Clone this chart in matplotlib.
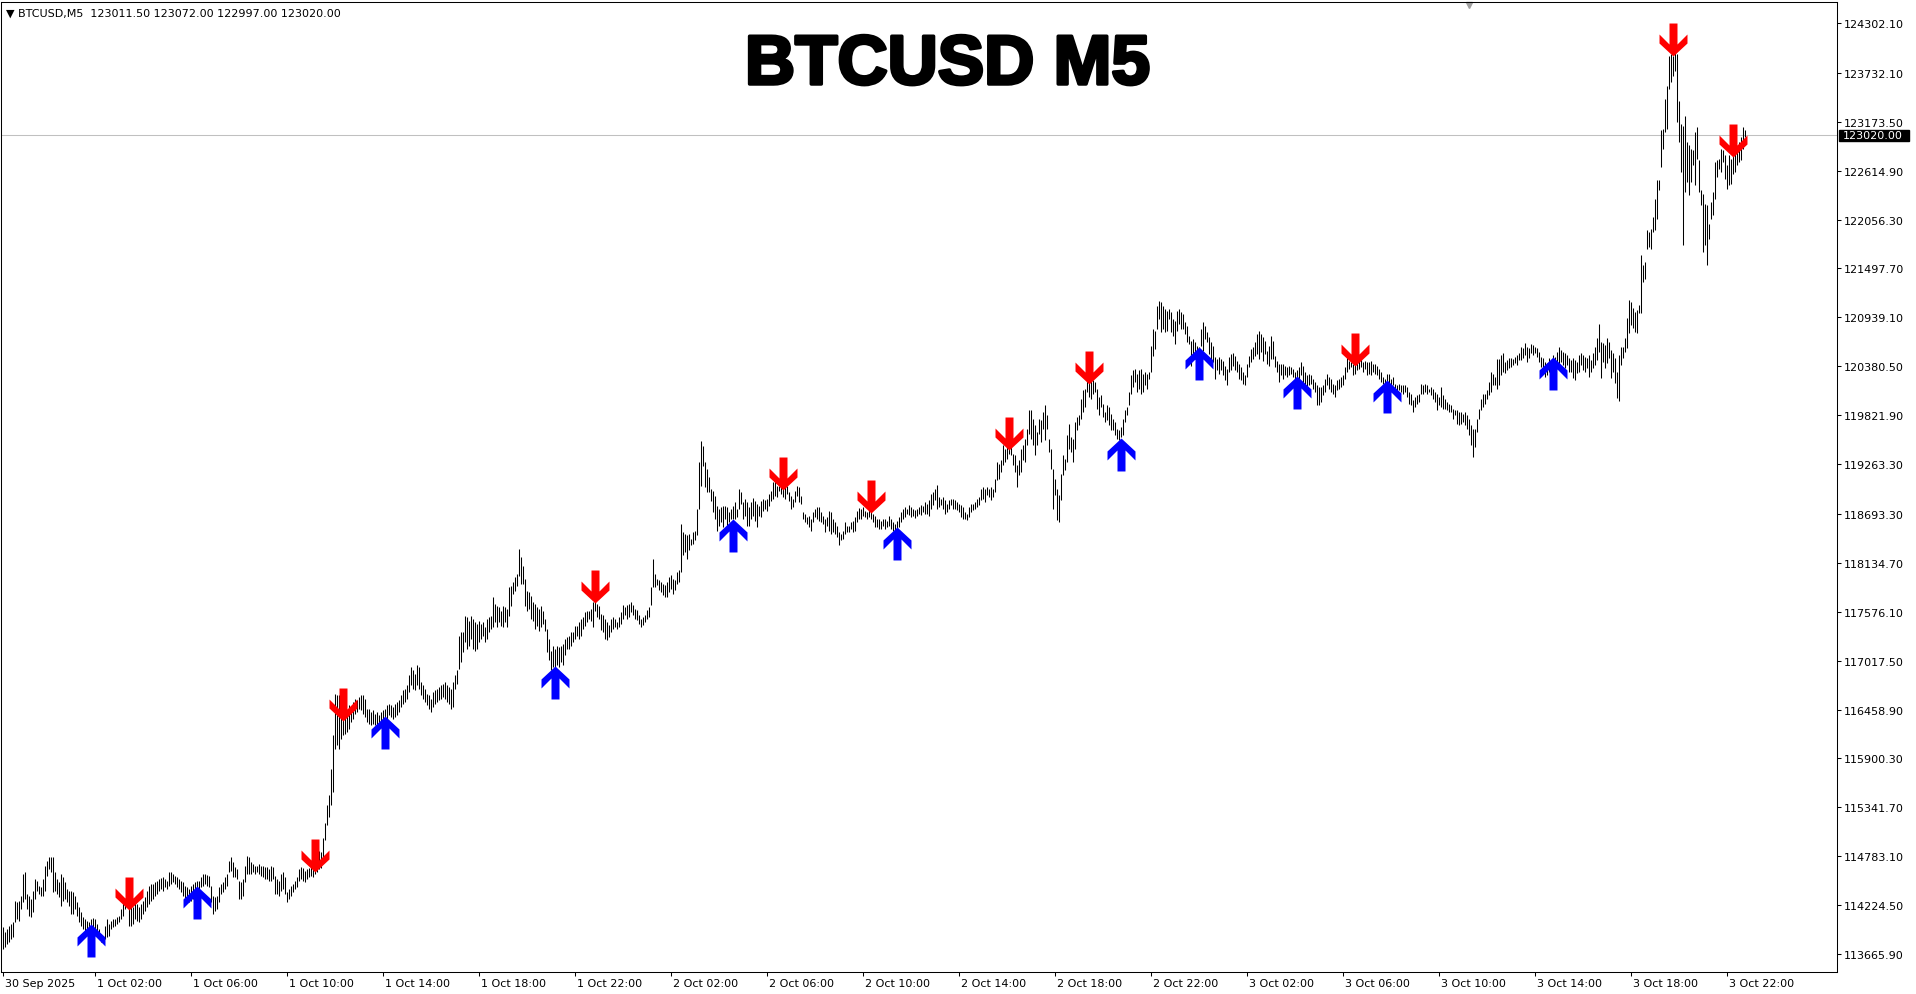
import numpy as np
import pandas as pd
import matplotlib
matplotlib.use("Agg")
import matplotlib.pyplot as plt
import matplotlib.patheffects as pe
from matplotlib.path import Path
from matplotlib.patches import Rectangle
from matplotlib.transforms import ScaledTranslation, blended_transform_factory

# M5 bars, first bar 30 Sep 2025 22:10
first_bar = "2025-09-30 22:10"

bar_high = [
113972, 113915, 113953, 113991, 114010, 114029, 114276, 114257, 114276, 114333,
114580, 114599, 114352, 114333, 114295, 114390, 114523, 114504, 114447, 114428,
114523, 114675, 114732, 114770, 114778, 114778, 114599, 114523, 114485, 114580,
114542, 114485, 114409, 114390, 114390, 114371, 114333, 114257, 114200, 114143,
114086, 114067, 114048, 114029, 114067, 114082, 114067, 114010, 113953, 113896,
113877, 113991, 114067, 114010, 114048, 114067, 114067, 114086, 114105, 114181,
114276, 114295, 114314, 114257, 114238, 114200, 114257, 114238, 114200, 114238,
114276, 114314, 114390, 114447, 114466, 114466, 114485, 114504, 114523, 114531,
114542, 114523, 114504, 114599, 114607, 114580, 114561, 114542, 114523, 114504,
114485, 114447, 114428, 114409, 114447, 114466, 114485, 114504, 114504, 114542,
114580, 114580, 114569, 114553, 114447, 114333, 114314, 114333, 114428, 114466,
114485, 114542, 114580, 114732, 114770, 114713, 114656, 114637, 114504, 114485,
114523, 114675, 114789, 114770, 114713, 114694, 114675, 114675, 114694, 114675,
114675, 114656, 114656, 114637, 114675, 114656, 114561, 114523, 114504, 114580,
114599, 114542, 114371, 114409, 114447, 114466, 114504, 114542, 114637, 114656,
114645, 114618, 114637, 114645, 114675, 114656, 114713, 114751, 114846, 114834,
114986, 115157, 115366, 115480, 115784, 116164, 116639, 116620, 116620, 116506,
116430, 116392, 116411, 116506, 116487, 116544, 116582, 116563, 116601, 116620,
116628, 116582, 116468, 116468, 116430, 116449, 116411, 116430, 116392, 116430,
116449, 116468, 116506, 116525, 116506, 116487, 116525, 116544, 116563, 116620,
116677, 116696, 116734, 116848, 116943, 116905, 116867, 116962, 116943, 116772,
116734, 116696, 116639, 116620, 116582, 116658, 116677, 116696, 116715, 116734,
116753, 116772, 116734, 116715, 116696, 116772, 116848, 116905, 117304, 117342,
117342, 117532, 117513, 117475, 117532, 117494, 117456, 117437, 117475, 117437,
117456, 117399, 117494, 117513, 117532, 117741, 117665, 117646, 117627, 117589,
117646, 117627, 117608, 117855, 117874, 117912, 117969, 118007, 118292, 118197,
118102, 117950, 117817, 117798, 117760, 117684, 117665, 117627, 117608, 117646,
117589, 117494, 117380, 117266, 117133, 117190, 117152, 117190, 117171, 117190,
117209, 117266, 117285, 117304, 117342, 117342, 117418, 117418, 117456, 117494,
117513, 117570, 117589, 117589, 117608, 117684, 117684, 117665, 117646, 117554,
117535, 117497, 117459, 117421, 117497, 117516, 117497, 117459, 117516, 117573,
117649, 117630, 117649, 117668, 117687, 117649, 117611, 117592, 117535, 117497,
117516, 117535, 117592, 117630, 117858, 118181, 118010, 117953, 117934, 117915,
117896, 117877, 117915, 117972, 117991, 117953, 117934, 118029, 118048, 118580,
118485, 118466, 118447, 118466, 118409, 118485, 118504, 118751, 119283, 119530,
119473, 119283, 119207, 119112, 118979, 118960, 118903, 118789, 118751, 118770,
118789, 118789, 118770, 118713, 118751, 118789, 118827, 118751, 118979, 118941,
118827, 118865, 118827, 118770, 118827, 118873, 118846, 118808, 118789, 118846,
118865, 118857, 118865, 118922, 118960, 119055, 119074, 119017, 119017, 119036,
119017, 118998, 119017, 118941, 118903, 118865, 118960, 119017, 118998, 118903,
118713, 118694, 118656, 118675, 118637, 118713, 118751, 118770, 118770, 118713,
118675, 118637, 118656, 118732, 118713, 118637, 118599, 118561, 118485, 118466,
118504, 118599, 118561, 118561, 118599, 118618, 118656, 118732, 118759, 118751,
118770, 118732, 118713, 118770, 118713, 118694, 118675, 118637, 118637, 118618,
118637, 118637, 118618, 118675, 118637, 118599, 118580, 118618, 118656, 118717,
118755, 118774, 118755, 118793, 118774, 118755, 118736, 118755, 118774, 118793,
118785, 118831, 118812, 118850, 118926, 118945, 118983, 119021, 118888, 118869,
118888, 118850, 118812, 118850, 118869, 118869, 118850, 118831, 118812, 118793,
118774, 118717, 118698, 118774, 118812, 118812, 118831, 118869, 118888, 118983,
119002, 118983, 119002, 118983, 119002, 118983, 119097, 119287, 119268, 119306,
119477, 119439, 119477, 119439, 119458, 119382, 119363, 119249, 119306, 119439,
119477, 119553, 119667, 119876, 119876, 119781, 119705, 119629, 119781, 119762,
119857, 119933, 119819, 119553, 119439, 119211, 119097, 118983, 118907, 119154,
119363, 119325, 119591, 119724, 119572, 119553, 119743, 119800, 119819, 120009,
120104, 120123, 120218, 120199, 120237, 120218, 120199, 120123, 120028, 120047,
119952, 119857, 119933, 119914, 119838, 119781, 119743, 119667, 119648, 119686,
119781, 119876, 119914, 120085, 120275, 120332, 120351, 120294, 120332, 120351,
120294, 120313, 120294, 120313, 120617, 120807, 120788, 121073, 121130, 121111,
121073, 121035, 121016, 121035, 120997, 120921, 120902, 121016, 121035, 120997,
120978, 120883, 120845, 120731, 120674, 120693, 120655, 120617, 120598, 120807,
120883, 120845, 120769, 120712, 120655, 120617, 120484, 120465, 120484, 120465,
120446, 120389, 120351, 120484, 120522, 120533, 120503, 120446, 120408, 120370,
120313, 120275, 120408, 120503, 120579, 120598, 120655, 120750, 120788, 120750,
120712, 120674, 120560, 120617, 120731, 120674, 120503, 120446, 120408, 120408,
120408, 120381, 120370, 120389, 120370, 120351, 120313, 120332, 120370, 120427,
120389, 120313, 120275, 120294, 120275, 120237, 120199, 120161, 120142, 120142,
120161, 120237, 120294, 120256, 120237, 120180, 120161, 120218, 120237, 120256,
120275, 120370, 120503, 120446, 120427, 120408, 120427, 120446, 120465, 120484,
120427, 120446, 120427, 120427, 120446, 120408, 120408, 120389, 120351, 120313,
120256, 120237, 120294, 120294, 120237, 120256, 120180, 120169, 120180, 120161,
120169, 120161, 120142, 120085, 120066, 119990, 120028, 120047, 120066, 120180,
120161, 120180, 120161, 120123, 120142, 120123, 120085, 120066, 120028, 120142,
120047, 120009, 119971, 119952, 119933, 119895, 119876, 119876, 119857, 119857,
119838, 119857, 119819, 119781, 119705, 119667, 119667, 119781, 119895, 120009,
120066, 120066, 120104, 120199, 120313, 120294, 120256, 120465, 120465, 120509,
120528, 120433, 120452, 120471, 120479, 120463, 120490, 120509, 120528, 120604,
120585, 120642, 120604, 120585, 120631, 120623, 120604, 120585, 120547, 120490,
120471, 120433, 120414, 120471, 120433, 120509, 120490, 120547, 120604, 120566,
120547, 120528, 120509, 120471, 120452, 120471, 120452, 120433, 120509, 120528,
120509, 120490, 120471, 120509, 120452, 120528, 120604, 120699, 120859, 120661,
120642, 120623, 120699, 120661, 120566, 120528, 120471, 120319, 120509, 120604,
120604, 120699, 120927, 121136, 121117, 121041, 121003, 121022, 121079, 121649,
121535, 121573, 121934, 121915, 121953, 122086, 122295, 122504, 122504, 123074,
123093, 123435, 123587, 123929, 123948, 123929, 123967, 123948, 123416, 123150,
123131, 123245, 122941, 122903, 122865, 122846, 123055, 123112, 122732, 122390,
122352, 122238, 122219, 122010, 122257, 122371, 122713, 122732, 122751, 122865,
122846, 122789, 122675, 122789, 122751, 122846, 122903, 122865, 122941, 122998,
123112, 123074,
]

bar_low = [
113725, 113744, 113782, 113801, 113839, 113858, 114029, 114067, 114048, 114181,
114257, 114295, 114181, 114105, 114086, 114143, 114295, 114390, 114352, 114333,
114333, 114390, 114561, 114637, 114599, 114371, 114390, 114352, 114314, 114219,
114276, 114295, 114257, 114219, 114124, 114124, 114181, 114105, 114029, 113991,
113953, 113915, 113896, 113896, 113915, 113896, 113934, 113896, 113858, 113801,
113801, 113839, 113858, 113877, 113953, 113972, 113991, 114010, 114029, 114067,
114105, 114181, 114200, 113991, 113991, 114010, 114067, 114048, 114029, 114067,
114124, 114162, 114200, 114238, 114276, 114295, 114333, 114352, 114390, 114409,
114390, 114428, 114409, 114447, 114466, 114485, 114466, 114428, 114409, 114371,
114333, 114295, 114276, 114257, 114276, 114295, 114314, 114352, 114371, 114428,
114447, 114466, 114447, 114428, 114257, 114124, 114162, 114181, 114257, 114352,
114371, 114409, 114447, 114599, 114618, 114542, 114542, 114523, 114295, 114295,
114333, 114485, 114580, 114580, 114580, 114599, 114580, 114599, 114580, 114561,
114542, 114523, 114523, 114504, 114504, 114523, 114352, 114352, 114333, 114390,
114409, 114352, 114257, 114295, 114333, 114371, 114409, 114428, 114504, 114523,
114504, 114485, 114523, 114542, 114561, 114542, 114580, 114599, 114637, 114644,
114739, 114967, 115138, 115233, 115366, 115518, 116012, 116050, 116012, 116126,
116164, 116183, 116202, 116240, 116316, 116354, 116411, 116430, 116468, 116449,
116411, 116373, 116316, 116297, 116278, 116297, 116278, 116278, 116259, 116297,
116297, 116335, 116354, 116392, 116373, 116354, 116373, 116392, 116430, 116487,
116525, 116544, 116582, 116658, 116734, 116696, 116677, 116734, 116696, 116620,
116582, 116544, 116506, 116468, 116430, 116487, 116525, 116544, 116563, 116582,
116601, 116582, 116544, 116525, 116468, 116487, 116696, 116753, 116924, 117000,
117114, 117228, 117152, 117190, 117266, 117152, 117133, 117152, 117228, 117266,
117304, 117228, 117266, 117342, 117380, 117399, 117456, 117399, 117456, 117418,
117399, 117456, 117399, 117532, 117646, 117779, 117817, 117874, 117988, 117893,
117893, 117646, 117589, 117608, 117494, 117475, 117380, 117418, 117361, 117399,
117437, 117361, 117114, 117019, 116905, 116943, 116905, 116962, 116943, 117000,
116962, 117076, 117152, 117152, 117190, 117228, 117266, 117304, 117266, 117304,
117380, 117418, 117456, 117494, 117475, 117399, 117589, 117513, 117494, 117364,
117345, 117269, 117250, 117288, 117345, 117383, 117402, 117383, 117402, 117440,
117497, 117535, 117497, 117516, 117573, 117535, 117497, 117478, 117440, 117402,
117421, 117459, 117497, 117516, 117649, 117858, 117858, 117877, 117820, 117801,
117763, 117744, 117744, 117801, 117839, 117782, 117820, 117896, 117915, 118029,
118219, 118257, 118181, 118276, 118333, 118352, 118390, 118447, 118751, 119017,
119245, 118998, 118941, 118941, 118846, 118713, 118637, 118504, 118561, 118599,
118542, 118637, 118561, 118599, 118637, 118637, 118637, 118656, 118751, 118808,
118637, 118675, 118561, 118561, 118637, 118675, 118618, 118542, 118675, 118656,
118732, 118751, 118732, 118789, 118846, 118865, 118903, 118884, 118960, 118922,
118884, 118865, 118922, 118846, 118751, 118770, 118827, 118903, 118827, 118808,
118637, 118599, 118580, 118542, 118504, 118599, 118656, 118637, 118618, 118599,
118580, 118485, 118561, 118504, 118466, 118485, 118466, 118428, 118333, 118390,
118409, 118466, 118485, 118485, 118523, 118485, 118504, 118599, 118637, 118637,
118675, 118656, 118637, 118656, 118637, 118599, 118542, 118542, 118523, 118523,
118561, 118523, 118542, 118561, 118523, 118504, 118504, 118523, 118542, 118603,
118641, 118660, 118698, 118679, 118660, 118671, 118649, 118671, 118698, 118679,
118717, 118698, 118698, 118671, 118755, 118793, 118850, 118755, 118774, 118793,
118755, 118698, 118717, 118755, 118793, 118755, 118755, 118736, 118717, 118660,
118641, 118633, 118622, 118660, 118717, 118736, 118755, 118774, 118793, 118850,
118869, 118831, 118907, 118888, 118850, 118888, 118945, 119078, 119097, 119173,
119249, 119287, 119325, 119382, 119363, 119249, 119173, 119002, 119135, 119173,
119306, 119287, 119477, 119610, 119553, 119477, 119363, 119477, 119610, 119515,
119667, 119534, 119667, 119401, 119211, 118755, 118907, 118622, 118603, 118850,
119135, 119192, 119287, 119439, 119401, 119287, 119439, 119648, 119705, 119781,
119857, 119914, 120085, 120028, 120009, 120066, 120085, 119895, 119819, 119914,
119800, 119743, 119762, 119705, 119648, 119648, 119591, 119553, 119534, 119572,
119591, 119743, 119819, 119933, 120066, 120142, 120199, 120085, 120123, 120066,
120085, 120161, 120123, 120237, 120313, 120503, 120579, 120807, 120921, 120769,
120807, 120769, 120788, 120921, 120769, 120731, 120636, 120788, 120864, 120807,
120807, 120750, 120655, 120636, 120389, 120522, 120465, 120446, 120503, 120617,
120560, 120693, 120655, 120522, 120465, 120427, 120237, 120332, 120294, 120332,
120275, 120218, 120161, 120313, 120332, 120389, 120332, 120313, 120237, 120218,
120180, 120161, 120256, 120370, 120427, 120465, 120503, 120522, 120465, 120541,
120446, 120522, 120408, 120389, 120465, 120465, 120370, 120313, 120199, 120275,
120237, 120275, 120256, 120275, 120294, 120256, 120199, 120237, 120237, 120275,
120180, 120161, 120123, 120161, 120180, 120123, 120085, 119933, 119933, 119971,
120047, 120085, 120161, 120123, 120085, 120066, 120028, 120104, 120123, 120142,
120161, 120237, 120313, 120351, 120370, 120275, 120294, 120332, 120351, 120370,
120313, 120351, 120275, 120294, 120275, 120313, 120294, 120275, 120237, 120199,
120180, 120161, 120199, 120123, 120142, 120161, 120085, 120066, 120104, 120085,
120066, 120085, 120028, 119952, 119933, 119857, 119914, 119952, 119971, 120066,
120066, 120085, 120066, 120085, 120047, 120009, 119971, 119876, 119933, 119914,
119895, 119895, 119876, 119857, 119857, 119781, 119819, 119724, 119705, 119724,
119743, 119705, 119667, 119591, 119477, 119344, 119458, 119629, 119781, 119876,
119914, 119952, 120009, 120047, 120085, 120161, 120161, 120123, 120161, 120281,
120319, 120300, 120338, 120357, 120376, 120395, 120414, 120395, 120452, 120452,
120471, 120509, 120433, 120471, 120528, 120509, 120528, 120490, 120433, 120376,
120338, 120262, 120281, 120319, 120319, 120357, 120376, 120395, 120376, 120433,
120395, 120357, 120395, 120319, 120319, 120243, 120224, 120300, 120319, 120395,
120338, 120319, 120357, 120262, 120319, 120357, 120395, 120452, 120547, 120243,
120433, 120357, 120414, 120471, 120243, 120319, 120186, 120015, 119985, 120395,
120471, 120547, 120585, 120756, 120851, 120813, 120775, 120756, 120984, 120984,
121345, 121383, 121725, 121744, 121725, 121915, 121934, 122067, 122390, 122656,
122865, 123055, 123093, 123549, 123625, 123701, 123758, 123169, 122941, 122599,
121763, 122371, 122485, 122333, 122485, 122675, 122447, 122751, 122371, 122219,
121687, 121763, 121535, 121839, 122067, 122105, 122295, 122542, 122637, 122599,
122713, 122523, 122409, 122447, 122466, 122580, 122599, 122675, 122713, 122732,
122865, 122998,
]

# signal arrows: bar index and price at the arrow tip
up_idx = [44, 97, 191, 276, 365, 447, 559, 598, 647, 692, 775]
up_price = [114010, 114445, 116388, 116952, 118635, 118544, 119557, 120600, 120272, 120226, 120482]
down_idx = [63, 156, 170, 296, 390, 434, 503, 543, 676, 835, 865]
down_price = [114171, 114605, 116331, 117672, 118966, 118704, 119427, 120177, 120380, 123928, 122767]

last_price = 123020.00
header = "\u25bc BTCUSD,M5  123011.50 123072.00 122997.00 123020.00"
price_ticks = [124302.10, 123732.10, 123173.50, 122614.90, 122056.30, 121497.70,
               120939.10, 120380.50, 119821.90, 119263.30, 118693.30, 118134.70,
               117576.10, 117017.50, 116458.90, 115900.30, 115341.70, 114783.10,
               114224.50, 113665.90]

n = min(len(bar_high), len(bar_low))
times = pd.date_range(first_bar, periods=n, freq="5min")
x = np.arange(n)

W, H = 1916, 995
fig = plt.figure(figsize=(W / 100, H / 100), dpi=100)
fig.patch.set_facecolor("white")
ax = fig.add_axes([1 / W, (H - 973) / H, 1836 / W, 970 / H])

ax.vlines(x, bar_low[:n], bar_high[:n], color="black", lw=0.75, zorder=2)
ax.axhline(last_price, color="#c0c0c0", lw=0.75, zorder=1)

# wingdings-like thick arrows, tip at the origin
up_v = [(0, 0), (14, -13), (14, -22), (4, -12), (4, -33), (-4, -33),
        (-4, -12), (-14, -22), (-14, -13), (0, 0)]
up_arrow = Path(up_v, closed=True)
down_arrow = Path([(vx, -vy) for vx, vy in up_v], closed=True)
ax.plot(up_idx, up_price, ls="none", marker=up_arrow, ms=47.5,
        mfc="#0000ff", mec="#0000ff", mew=0, zorder=4)
ax.plot(down_idx, down_price, ls="none", marker=down_arrow, ms=47.5,
        mfc="#ff0000", mec="#ff0000", mew=0, zorder=4)

ax.set_xlim(-1, 917)
ax.set_ylim(113460, 124542)

# price scale on the right
ax.yaxis.tick_right()
ax.set_yticks(price_ticks)
ax.set_yticklabels([f"{v:.2f}" for v in price_ticks])
ax.tick_params(axis="y", length=3, width=0.75, pad=2, labelsize=8, direction="out")

# time scale: every 4 hours
tick_pos = [0] + [i for i, t in enumerate(times) if t.minute == 0 and t.hour % 4 == 2]
tick_lab = ["30 Sep 2025"] + [f"{times[i].day} {times[i]:%b %H:%M}" for i in tick_pos[1:]]
ax.set_xticks(tick_pos)
ax.set_xticklabels(tick_lab)
ax.tick_params(axis="x", length=3, width=0.75, pad=1.5, labelsize=8, direction="out")
for lbl in ax.get_xticklabels():
    lbl.set_ha("left")
    lbl.set_transform(lbl.get_transform() + ScaledTranslation(0.02, 0, fig.dpi_scale_trans))

for s in ax.spines.values():
    s.set_linewidth(0.75)
    s.set_color("black")

# current price tag
bt = blended_transform_factory(ax.transAxes, ax.transData)
ax.add_patch(Rectangle((1 + 2 / 1836, last_price - 66), 70 / 1836, 126,
                       transform=bt, fc="black", ec="black", clip_on=False, zorder=5))
ax.text(1 + 6 / 1836, last_price - 3, f"{last_price:.2f}", transform=bt, color="white",
        fontsize=8, va="center", ha="left", clip_on=False, zorder=6)

# chart shift marker
ax.plot([1468 / 1836], [1 - 3 / 970], marker="v", ms=5, color="#a0a0a0",
        transform=ax.transAxes, clip_on=False)

fig.text(6 / W, 1 - 14 / H, header, fontsize=8, va="center", ha="left",
         family=["DejaVu Sans"], color="black")

fig.text(947.5 / W, 1 - 85 / H, "BTCUSD M5", fontsize=50, fontweight="bold",
         family=["Liberation Sans", "DejaVu Sans"], ha="center", va="baseline",
         color="black", path_effects=[pe.withStroke(linewidth=2.5, foreground="black")])

fig.savefig("out.png", dpi=100)
